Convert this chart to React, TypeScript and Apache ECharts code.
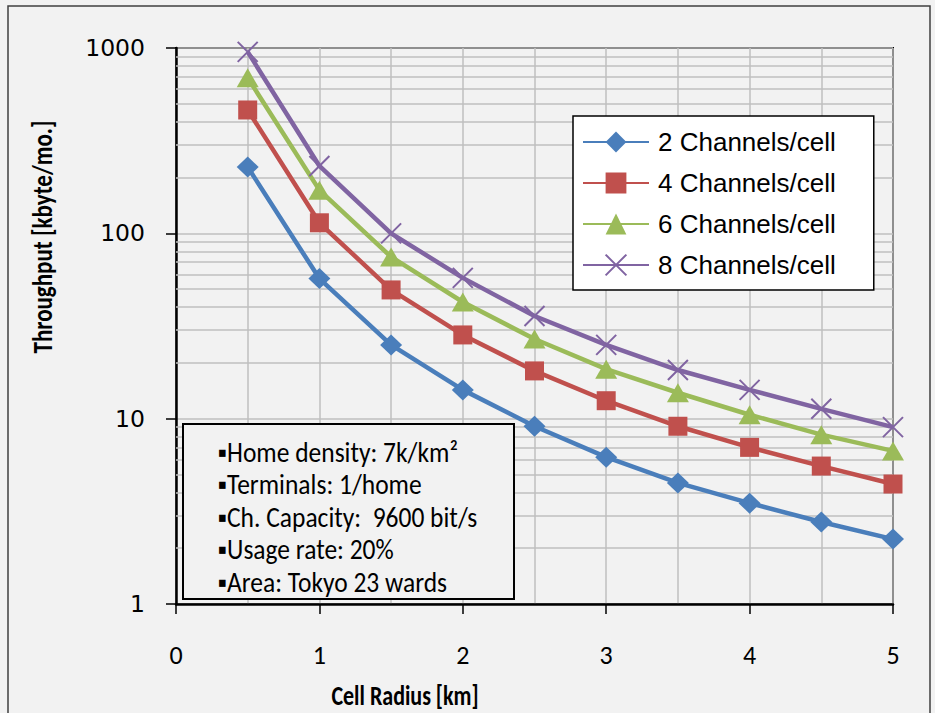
import React, { useEffect, useRef } from "react";
import * as echarts from "echarts";

const X_RADIUS = [0.5, 1, 1.5, 2, 2.5, 3, 3.5, 4, 4.5, 5];
const CH2 = [228, 57, 25, 14.3, 9.1, 6.2, 4.5, 3.5, 2.77, 2.24];
const CH4 = [463, 114, 49.5, 28.3, 18.1, 12.5, 9.1, 7.0, 5.55, 4.44];
const CH6 = [690, 171, 74.6, 42.6, 26.9, 18.5, 13.8, 10.5, 8.2, 6.7];
const CH8 = [953, 231, 100, 57.5, 35.8, 25, 18.3, 14.3, 11.3, 9.0];
const SERIES_NAMES = ["2 Channels/cell", "4 Channels/cell", "6 Channels/cell", "8 Channels/cell"];
const MINOR_Y_GRID = [2, 3, 4, 5, 6, 7, 8, 9, 20, 30, 40, 50, 60, 70, 80, 90, 200, 300, 400, 500, 600, 700, 800, 900];
const NOTES = [
  "▪Home density: 7k/km²",
  "▪Terminals: 1/home",
  "▪Ch. Capacity:  9600 bit/s",
  "▪Usage rate: 20%",
  "▪Area: Tokyo 23 wards",
];
const X_TITLE = "Cell Radius [km]";
const Y_TITLE = "Throughput [kbyte/mo.]";

const CALIBRI = "Carlito, Lato, sans-serif";
const GRID_COLOR = "#bfbfbf";

function pairs(ys: number[]) {
  return X_RADIUS.map((x, i) => [x, ys[i]]);
}

export default function App() {
  const ref = useRef<HTMLDivElement>(null);
  useEffect(() => {
    if (!ref.current) return;
    const chart = echarts.init(ref.current, null, { renderer: "svg" });
    const mk = (name: string, data: number[], color: string, symbol: string, size: any, extra: any = {}) => ({
      name,
      type: "line",
      data: pairs(data),
      z: 3,
      symbol,
      symbolSize: size,
      lineStyle: { color, width: 4.5 },
      itemStyle: { color, ...extra },
    });
    chart.setOption({
      animation: false,
      backgroundColor: "#f2f2f2",
      grid: {
        left: 176,
        right: 42,
        top: 48,
        bottom: 109,
        show: true,
        borderColor: "#000",
        borderWidth: 2,
        backgroundColor: "transparent",
      },
      xAxis: {
        type: "value",
        min: 0,
        max: 5,
        interval: 1,
        axisLine: { lineStyle: { color: "#000", width: 2.5 } },
        axisTick: { show: true, inside: false, length: 10, lineStyle: { color: "#000", width: 1.5 } },
        axisLabel: { margin: 38, fontFamily: CALIBRI, fontSize: 26, color: "#000" },
        splitLine: { show: true, lineStyle: { color: GRID_COLOR, width: 1.5 } },
        minorTick: { show: false, splitNumber: 2 },
        minorSplitLine: { show: true, lineStyle: { color: GRID_COLOR, width: 1.5 } },
      },
      yAxis: {
        type: "log",
        logBase: 10,
        min: 1,
        max: 1000,
        axisLine: { show: true, lineStyle: { color: "#000", width: 2.5 } },
        axisTick: { show: true, inside: false, length: 10, lineStyle: { color: "#000", width: 1.5 } },
        axisLabel: {
          margin: 31,
          fontFamily: "DejaVu Sans",
          fontSize: 23.5,
          color: "#000",
          formatter: (v: number) => String(Math.round(v)),
        },
        splitLine: { show: true, lineStyle: { color: GRID_COLOR, width: 1.5 } },
      },
      legend: {
        data: SERIES_NAMES,
        orient: "vertical",
        left: 573,
        top: 116,
        backgroundColor: "#fff",
        borderColor: "#000",
        borderWidth: 1.5,
        padding: [13, 38, 12, 9],
        itemWidth: 66,
        itemHeight: 26,
        itemGap: 15,
        z: 10,
        textStyle: {
          fontFamily: "Liberation Sans",
          fontSize: 26,
          color: "#000",
          padding: [0, 0, 0, 4],
        },
      },
      graphic: [
        {
          type: "rect",
          shape: { x: 8, y: 6, width: 922, height: 740 },
          style: { fill: "none", stroke: "#404040", lineWidth: 1.5 },
          silent: true,
          z: 100,
        },
        {
          type: "rect",
          shape: { x: 183, y: 424, width: 331, height: 175 },
          style: { fill: "#f2f2f2", stroke: "#000", lineWidth: 2 },
          z: 50,
        },
        ...NOTES.map((t, i) => ({
          type: "text",
          x: 218,
          y: 452 + i * 32.5,
          scaleY: 1.1,
          style: {
            text: t,
            fill: "#000",
            font: `25.5px ${CALIBRI}`,
            verticalAlign: "middle",
          },
          z: 51,
        })),
        {
          type: "text",
          x: 405,
          y: 696,
          scaleY: 1.25,
          style: {
            text: X_TITLE,
            fill: "#000",
            font: `bold 22px ${CALIBRI}`,
            align: "center",
            verticalAlign: "middle",
          },
        },
        {
          type: "text",
          x: 42,
          y: 237,
          rotation: Math.PI / 2,
          scaleY: 1.25,
          style: {
            text: Y_TITLE,
            fill: "#000",
            font: `bold 23px ${CALIBRI}`,
            align: "center",
            verticalAlign: "middle",
          },
        },
      ],
      series: [
        {
          name: "grid-minor",
          type: "line",
          data: [],
          z: 1,
          silent: true,
          markLine: {
            z: 1,
            silent: true,
            symbol: "none",
            label: { show: false },
            lineStyle: { color: GRID_COLOR, width: 1.5, type: "solid" },
            data: MINOR_Y_GRID.map((v) => ({ yAxis: v })),
          },
        },
        mk(SERIES_NAMES[0], CH2, "#4a7ebb", "diamond", [22, 21]),
        mk(SERIES_NAMES[1], CH4, "#c0504d", "rect", 19),
        mk(SERIES_NAMES[2], CH6, "#9bbb59", "triangle", [22, 19]),
        mk(SERIES_NAMES[3], CH8, "#8064a2", "path://M0,0L10,10M10,0L0,10", 20, {
          borderColor: "#8064a2",
          borderWidth: 2,
        }),
      ],
    });
    return () => chart.dispose();
  }, []);
  return (
    <div
      ref={ref}
      style={{ position: "absolute", left: 0, top: 0, width: 935, height: 713 }}
    />
  );
}
